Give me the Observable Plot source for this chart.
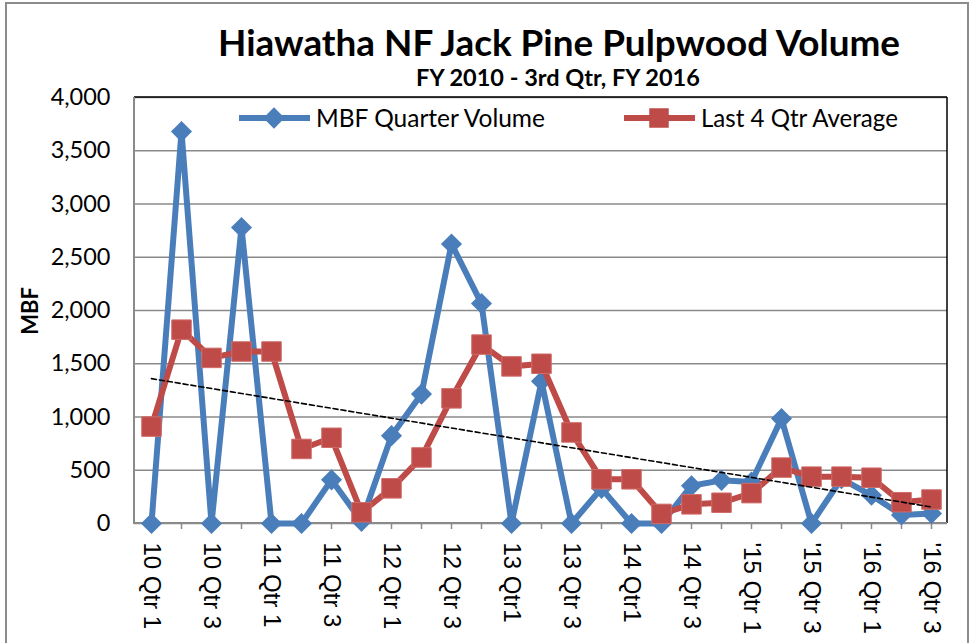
<!DOCTYPE html>
<html><head><meta charset="utf-8">
<script src="https://cdn.jsdelivr.net/npm/d3@7"></script>
<script src="https://cdn.jsdelivr.net/npm/@observablehq/plot@0.6"></script>
<style>
html,body{margin:0;padding:0;background:#fff;overflow:hidden;}
#wrap{position:relative;width:972px;height:643px;overflow:hidden;}
#border{position:absolute;left:5px;top:2px;width:960px;height:700px;border:2px solid #8c8c8c;}
#chart{position:absolute;left:0;top:0;}
#overlay{position:absolute;left:0;top:0;pointer-events:none;}
</style></head><body>
<div id="wrap"><div id="border"></div><div id="chart"></div><svg id="overlay" width="972" height="643"></svg></div>
<script>
const categories = ["10 Qtr 1","10 Qtr 2","10 Qtr 3","10 Qtr 4","11 Qtr 1","11 Qtr 2","11 Qtr 3","11 Qtr 4",
  "12 Qtr 1","12 Qtr 2","12 Qtr 3","12 Qtr 4","13 Qtr1","13 Qtr2","13 Qtr 3","13 Qtr 4",
  "14 Qtr1","14 Qtr2","14 Qtr 3","14 Qtr 4","'15 Qtr 1","'15 Qtr 2","'15 Qtr 3","'15 Qtr 4",
  "'16 Qtr 1","'16 Qtr 2","'16 Qtr 3"];
const tickLabels = ["10 Qtr 1","10 Qtr 3","11 Qtr 1","11 Qtr 3","12 Qtr 1","12 Qtr 3","13 Qtr1","13 Qtr 3",
  "14 Qtr1","14 Qtr 3","'15 Qtr 1","'15 Qtr 3","'16 Qtr 1","'16 Qtr 3"];
const volume = [0,3680,0,2780,0,0,410,20,825,1215,2625,2065,0,1335,0,330,0,0,355,405,390,985,0,420,265,80,95];
const average = [910,1820,1555,1615,1615,700,805,105,330,620,1175,1680,1475,1500,855,415,415,90,180,195,285,525,440,440,430,200,225];
const trend = [1360, 155];
const yTicks = [0,500,1000,1500,2000,2500,3000,3500,4000];
const seriesNames = ["MBF Quarter Volume","Last 4 Qtr Average"];
const titleText = "Hiawatha NF Jack Pine Pulpwood Volume";
const subtitleText = "FY 2010 - 3rd Qtr, FY 2016";
const yLabel = "MBF";

const blue = "#4a7ebb", red = "#be4b48", grid = "#8a8a8a";
const data = categories.map((q,i)=>({q, volume: volume[i], average: average[i]}));
const trendData = [{q: categories[0], v: trend[0]}, {q: categories[categories.length-1], v: trend[1]}];

const chart = Plot.plot({
  width: 972, height: 643,
  marginLeft: 134, marginRight: 25, marginTop: 97, marginBottom: 120,
  style: {background: "transparent", fontFamily: "Lato", overflow: "visible"},
  x: {type: "point", domain: categories, padding: 0.5, label: null},
  y: {domain: [0, 4000], label: null},
  marks: [
    Plot.gridY(yTicks, {stroke: grid, strokeOpacity: 1, strokeWidth: 1.5}),
    Plot.axisY(yTicks, {tickSize: 0, tickPadding: 24, tickFormat: d3.format(","), fontSize: 23.5, fill: "#000", label: null}),
    Plot.axisX({tickSize: 6, tickFormat: () => "", stroke: grid, strokeWidth: 1.5, label: null}),
    Plot.text(tickLabels, {x: d => d, frameAnchor: "bottom", rotate: 90, textAnchor: "start", lineAnchor: "middle",
      dy: 19, fontSize: 24, fontFamily: "Liberation Sans", fontWeight: 400, fill: "#000", ariaLabel: "xlabels"}),
    Plot.line(data, {x: "q", y: "volume", stroke: blue, strokeWidth: 6}),
    Plot.dot(data, {x: "q", y: "volume", symbol: "diamond2", r: 9.5, fill: blue, stroke: "none"}),
    Plot.line(data, {x: "q", y: "average", stroke: red, strokeWidth: 6}),
    Plot.dot(data, {x: "q", y: "average", symbol: "square", r: 11, fill: red, stroke: "#cf6b68", strokeWidth: 1}),
    Plot.line(trendData, {x: "q", y: "v", stroke: "#000", strokeWidth: 1.6, strokeDasharray: "5,3"})
  ]
});
document.getElementById("chart").appendChild(chart);

// fit a text group's font size so that a given text element has the target width
function fitGroup(groupSel, textNode, target) {
  const len = textNode.getComputedTextLength();
  if (!len) return;
  const cur = parseFloat(getComputedStyle(textNode).fontSize);
  groupSel.attr("font-size", (cur * target / len).toFixed(2));
}
const svg = d3.select(chart);
const xg = svg.select('g[aria-label="xlabels"]');
if (!xg.empty() && xg.select("text").node()) fitGroup(xg, xg.select("text").node(), 84);

// plot-area frame: gray left/bottom axis lines, black top/right border
const xr = chart.scale("x").range, yr = chart.scale("y").range;
const fg = svg.insert("g", 'g[aria-label="line"]');
const L = Math.min(...xr), R = Math.max(...xr), T = Math.min(...yr), B = Math.max(...yr);
fg.append("line").attr("x1", L).attr("x2", R).attr("y1", T).attr("y2", T).attr("stroke", "#000").attr("stroke-width", 1.5);
fg.append("line").attr("x1", R).attr("x2", R).attr("y1", T).attr("y2", B).attr("stroke", "#000").attr("stroke-width", 1.5);
fg.append("line").attr("x1", L).attr("x2", L).attr("y1", T).attr("y2", B + 1).attr("stroke", grid).attr("stroke-width", 2);
fg.append("line").attr("x1", L).attr("x2", R).attr("y1", B).attr("y2", B).attr("stroke", grid).attr("stroke-width", 2);

// titles and legend
const ov = d3.select("#overlay");
function fitText(sel, target) {
  const n = sel.node(), len = n.getComputedTextLength();
  if (len) sel.attr("font-size", (parseFloat(sel.attr("font-size")) * target / len).toFixed(2));
}
const tt = ov.append("text").attr("x", 559).attr("y", 56).attr("text-anchor", "middle").attr("font-family", "Lato")
  .attr("font-weight", 700).attr("font-size", 36).text(titleText);
fitText(tt, 682);
const st = ov.append("text").attr("x", 558).attr("y", 86).attr("text-anchor", "middle").attr("font-family", "Lato")
  .attr("font-weight", 700).attr("font-size", 23).text(subtitleText);
fitText(st, 284);
ov.append("text").attr("transform", "translate(38,311) rotate(-90)").attr("text-anchor", "middle").attr("font-family", "Lato")
  .attr("font-weight", 700).attr("font-size", 22).text(yLabel);
const leg = [{x: 239, color: blue, sym: d3.symbolDiamond2, size: 290, name: seriesNames[0], w: 229},
             {x: 624, color: red, sym: d3.symbolSquare, size: 380, name: seriesNames[1], w: 197}];
leg.forEach(l => {
  const g = ov.append("g");
  g.append("line").attr("x1", l.x).attr("x2", l.x + 71).attr("y1", 118).attr("y2", 118).attr("stroke", l.color).attr("stroke-width", 6);
  g.append("path").attr("d", d3.symbol(l.sym, l.size)()).attr("transform", `translate(${l.x + 35},118)`).attr("fill", l.color);
  const t = g.append("text").attr("x", l.x + 77).attr("y", 127).attr("font-family", "Lato").attr("font-size", 24).text(l.name);
  fitText(t, l.w);
});
</script>
</body></html>
